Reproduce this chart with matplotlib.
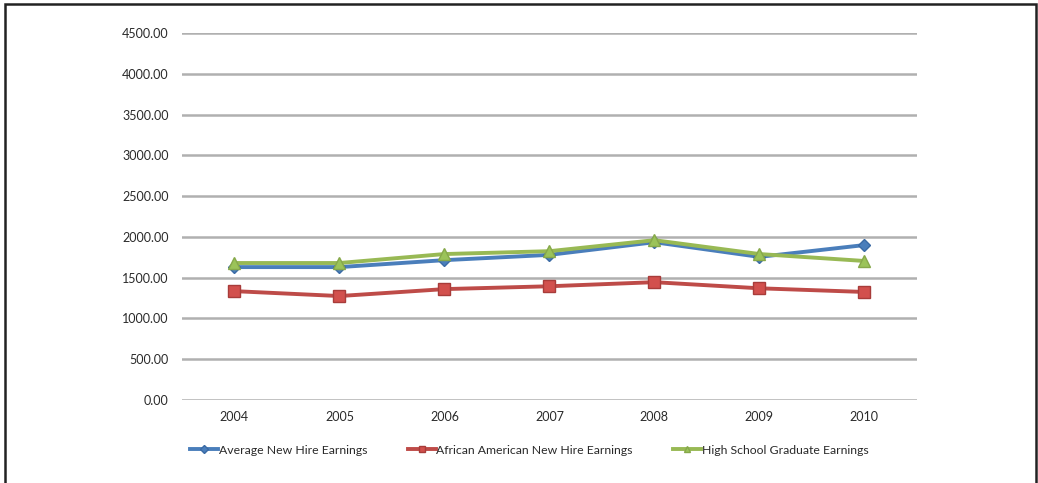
import matplotlib
matplotlib.use("Agg")
import matplotlib.pyplot as plt
from matplotlib.patches import Rectangle

years = ["2004", "2005", "2006", "2007", "2008", "2009", "2010"]
avg_new_hire = [1630, 1630, 1715, 1780, 1935, 1755, 1900]
african_american = [1335, 1275, 1360, 1395, 1445, 1370, 1325]
high_school = [1680, 1680, 1790, 1825, 1960, 1790, 1705]

y_ticks = [0, 500, 1000, 1500, 2000, 2500, 3000, 3500, 4000, 4500]

plt.rcParams['font.family'] = ['Lato', 'DejaVu Sans']

fig = plt.figure(figsize=(10.38, 4.83), dpi=100)
ax = fig.add_axes([0.1753, 0.1718, 0.708, 0.7598])

x = range(len(years))
ax.plot(x, avg_new_hire, color='#4a7ebb', lw=2.8, marker='D', ms=6.5,
        mfc='#4a7ebb', mec='#3a6aa5', label="Average New Hire Earnings", zorder=3)
ax.plot(x, african_american, color='#be4b48', lw=2.8, marker='s', ms=8,
        mfc='#d2504d', mec='#a83c3a', label="African American New Hire Earnings", zorder=3)
ax.plot(x, high_school, color='#98b954', lw=2.8, marker='^', ms=8,
        mfc='#9bc359', mec='#86a84a', label="High School Graduate Earnings", zorder=4)

ax.set_xlim(-0.5, len(years) - 0.5)
ax.set_ylim(0, 4500)
ax.set_xticks(list(x))
ax.set_xticklabels(years)
ax.set_yticks(y_ticks)
ax.set_yticklabels([f"{v:.2f}" for v in y_ticks])
ax.tick_params(axis='both', length=0, labelsize=9, colors='#2a2a2a')
ax.tick_params(axis='y', pad=9.5)
ax.tick_params(axis='x', pad=8)
ax.grid(axis='y', color='#b0b0b0', lw=1.8)
ax.set_axisbelow(True)
for s in ax.spines.values():
    s.set_visible(False)

fig.legend(loc='center', bbox_to_anchor=(0.51, 0.068), ncol=3, frameon=False,
           fontsize=8.8, handlelength=2.3, handletextpad=0.05, columnspacing=3.3,
           markerscale=0.6, labelcolor='#2a2a2a')

# thin frame round the whole chart
fig.add_artist(Rectangle((5 / 1038, -0.05), 1031 / 1038, 1.05 - 4 / 483,
                         transform=fig.transFigure, fill=False,
                         ec='#222222', lw=1.8))

fig.savefig("out.png", dpi=100)
